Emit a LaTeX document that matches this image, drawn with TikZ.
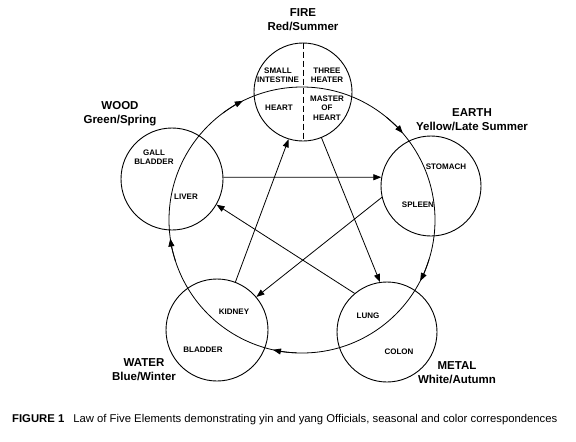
\documentclass[tikz,border=0pt]{standalone}
\usepackage{fontspec}
\setmainfont{Liberation Sans}
\usetikzlibrary{arrows.meta,calc}
\begin{document}
\begin{tikzpicture}[x=1pt,y=-1pt,
  organ/.style={circle,draw,line width=0.9pt,minimum size=100pt,inner sep=0pt},
  lbl/.style={font=\fontsize{8}{9.5}\selectfont\bfseries,align=center,inner sep=0pt},
  elem/.style={font=\fontsize{11.5}{14}\selectfont\bfseries,align=center,inner sep=0pt},
  arr/.style={line width=0.8pt,-{Triangle[length=8pt,width=6pt]}},
  ring/.style={line width=0.8pt}
  ]
\useasboundingbox (0,0) rectangle (576,442);
% small circles
\node[organ,minimum size=98pt] (fire) at (303,92) {};
\node[organ,minimum size=100pt] (earth) at (431,186) {};
\node[organ,minimum size=100pt] (metal) at (387,332) {};
\node[organ,minimum size=102pt] (water) at (217,330) {};
\node[organ,minimum size=102pt] (wood) at (172,179) {};
\draw[line width=0.8pt,dash pattern=on 6pt off 3pt] (fire.north) -- (fire.south);
% big ring
\coordinate (O) at (302,220);
\draw[ring] (O) circle[radius=133pt];
\draw[arr] ($(O)+(126.4:133pt)$) arc[start angle=126.4,end angle=116.4,radius=133pt];
\draw[arr] ($(O)+(50.7:133pt)$) arc[start angle=50.7,end angle=40.7,radius=133pt];
\draw[arr] ($(O)+(-17.3:133pt)$) arc[start angle=-17.3,end angle=-27.3,radius=133pt];
\draw[arr] ($(O)+(-92.6:133pt)$) arc[start angle=-92.6,end angle=-102.6,radius=133pt];
\draw[arr] ($(O)+(-162:133pt)$) arc[start angle=-162,end angle=-172,radius=133pt];
% star
\draw[arr] (wood.2) -- (earth.170);
\draw[arr] (earth.193) -- (water.40);
\draw[arr] (water.69) -- (fire.-107);
\draw[arr] (fire.-68) -- (metal.98);
\draw[arr] (metal.130) -- (wood.-30);
% element labels
\node[elem] (tfire) at (303,20) {FIRE\\Red/Summer};
\node[elem] (twood) at (120,114) {WOOD\\Green/Spring};
\node[elem] (tearth) at (472,120) {EARTH\\Yellow/Late Summer};
\node[elem] (twater) at (144,370) {WATER\\Blue/Winter};
\node[elem] (tmetal) at (457,373) {METAL\\White/Autumn};
% organ labels
\node[lbl] (si) at (278,75) {SMALL\\INTESTINE};
\node[lbl] (th) at (327,75) {THREE\\HEATER};
\node[lbl] (he) at (279,108) {HEART};
\node[lbl] (mh) at (327,108) {MASTER\\OF\\HEART};
\node[lbl] (gb) at (154,157) {GALL\\BLADDER};
\node[lbl] (li) at (186,197) {LIVER};
\node[lbl] (st) at (446,167) {STOMACH};
\node[lbl] (sp) at (418,205) {SPLEEN};
\node[lbl] (ki) at (234,312) {KIDNEY};
\node[lbl] (bl) at (203,350) {BLADDER};
\node[lbl] (lu) at (368,316) {LUNG};
\node[lbl] (co) at (399,352) {COLON};
% caption
\node[font=\fontsize{11.3}{13}\selectfont,anchor=west,inner sep=0pt] (cap) at (12,420)
  {\textbf{FIGURE 1}\hspace{9pt}Law of Five Elements demonstrating yin and yang Officials, seasonal and color correspondences};
\end{tikzpicture}
\end{document}
